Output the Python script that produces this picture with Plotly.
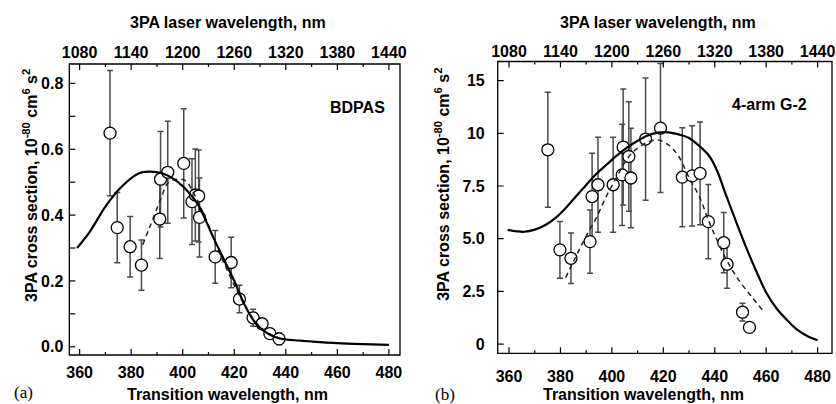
import plotly.graph_objects as go

W, H = 836, 404

# ---------------- panel (a): BDPAS ----------------
a_x = [371.8, 374.6, 379.6, 384.0, 391.1, 391.4, 394.2, 400.4, 403.6, 404.9,
       406.2, 406.5, 412.6, 418.8, 422.0, 427.3, 430.8, 433.8, 437.4]
a_y = [0.649, 0.362, 0.304, 0.248, 0.388, 0.509, 0.530, 0.557, 0.441, 0.461,
       0.458, 0.393, 0.273, 0.256, 0.145, 0.088, 0.070, 0.040, 0.024]
a_err = [0.19, 0.107, 0.092, 0.076, 0.12, 0.145, 0.155, 0.166, 0.13, 0.14,
         0.14, 0.12, 0.08, 0.077, 0.042, 0.026, 0.012, 0.008, 0.018]

a_fit_x = [359, 364, 370, 376, 383, 387, 392, 397, 402, 406, 408, 412, 416,
           420, 424, 428, 432, 436, 440, 445, 450, 460, 470, 480]
a_fit_y = [0.30, 0.35, 0.426, 0.484, 0.527, 0.532, 0.527, 0.507, 0.472, 0.432,
           0.40, 0.33, 0.265, 0.20, 0.128, 0.075, 0.045, 0.029, 0.022, 0.019,
           0.016, 0.011, 0.008, 0.006]

a_dash_x = [384.5, 387, 390, 392, 394, 397, 401, 404, 406, 410, 414, 418,
            422, 426, 430, 434, 438]
a_dash_y = [0.31, 0.36, 0.42, 0.46, 0.495, 0.508, 0.505, 0.47, 0.44, 0.37,
            0.29, 0.22, 0.155, 0.10, 0.06, 0.038, 0.025]

# ---------------- panel (b): 4-arm G-2 ----------------
b_x = [375.1, 379.8, 384.1, 391.5, 392.3, 394.6, 400.5, 404.0, 404.4, 406.6,
       407.4, 413.1, 418.9, 427.4, 431.2, 434.3, 437.5, 443.5, 444.8, 450.8, 453.5]
b_y = [9.22, 4.47, 4.07, 4.86, 7.0, 7.56, 7.56, 8.03, 9.35, 8.9,
       7.88, 9.73, 10.25, 7.92, 7.98, 8.1, 5.81, 4.81, 3.79, 1.51, 0.79]
b_err = [2.73, 1.35, 1.2, 1.5, 2.06, 2.25, 2.25, 2.4, 2.75, 2.6,
         2.36, 2.9, 3.06, 2.35, 2.38, 2.44, 1.76, 1.43, 1.14, 0.42, 0.0]

b_fit_x = [359.5, 363, 366, 370, 374, 378, 382, 386, 390, 394, 398, 402, 406,
           410, 414, 418, 422, 426, 430, 434, 438, 441, 444, 448, 452, 456,
           460, 464, 468, 472, 476, 480]
b_fit_y = [5.42, 5.35, 5.33, 5.43, 5.64, 5.98, 6.45, 7.0, 7.55, 8.08, 8.52,
           8.95, 9.33, 9.65, 9.9, 10.03, 10.05, 9.95, 9.78, 9.4, 8.9, 8.2, 7.2,
           5.9, 4.65, 3.5, 2.45, 1.7, 1.15, 0.68, 0.38, 0.18]

b_dash_x = [382, 385, 388, 391, 394, 398, 402, 406, 410, 414, 418, 422, 426,
            430, 434, 437.5, 441, 445, 449, 454, 459]
b_dash_y = [3.15, 3.9, 4.65, 5.35, 6.0, 7.05, 7.95, 8.8, 9.3, 9.58, 9.68,
            9.45, 8.9, 7.9, 7.0, 5.9, 4.9, 3.9, 3.1, 2.3, 1.55]

# ---------------- ticks / labels ----------------
bottom_ticks = [360, 380, 400, 420, 440, 460, 480]
bottom_minor = [370, 390, 410, 430, 450, 470]
top_ticks = [1080, 1140, 1200, 1260, 1320, 1380, 1440]
top_minor = [1110, 1170, 1230, 1290, 1350, 1410]
a_yticks = [0.0, 0.2, 0.4, 0.6, 0.8]
a_yminor = [0.1, 0.3, 0.5, 0.7]
a_yticktext = ["0.0", "0.2", "0.4", "0.6", "0.8"]
b_yticks = [0, 2.5, 5.0, 7.5, 10, 12.5]
b_yticktext = ["0", "2.5", "5.0", "7.5", "10", "15"]

FONT = "Liberation Sans, Arial, Helvetica, sans-serif"
SERIF = "Liberation Serif, Times New Roman, serif"

# plot-area rectangles in pixels (left, right, top, bottom)
A_BOX = (69.3, 400.0, 64.0, 355.0)
B_BOX = (497.7, 832.0, 61.5, 353.3)


def dom_x(box):
    return [box[0] / W, box[1] / W]


def dom_y(box):
    return [(H - box[3]) / H, (H - box[2]) / H]


fig = go.Figure()

marker = dict(symbol="circle", size=12, color="white",
              line=dict(color="black", width=1.3))
err_style = dict(type="data", color="#4a4a4a", thickness=1.5, width=3)

for (px_, py_, pe, fx, fy, dx, dy, xa, ya, xt) in [
    (a_x, a_y, a_err, a_fit_x, a_fit_y, a_dash_x, a_dash_y, "x", "y", "x3"),
    (b_x, b_y, b_err, b_fit_x, b_fit_y, b_dash_x, b_dash_y, "x2", "y2", "x4"),
]:
    fig.add_trace(go.Scatter(x=px_, y=py_, mode="markers", marker=marker,
                             error_y=dict(array=pe, **err_style),
                             xaxis=xa, yaxis=ya, showlegend=False,
                             hoverinfo="skip"))
    fig.add_trace(go.Scatter(x=dx, y=dy, mode="lines",
                             line=dict(color="#222", width=1.5,
                                       dash="5px,4px", shape="spline"),
                             xaxis=xa, yaxis=ya, showlegend=False))
    fig.add_trace(go.Scatter(x=fx, y=fy, mode="lines",
                             line=dict(color="black", width=2.2,
                                       shape="spline"),
                             xaxis=xa, yaxis=ya, showlegend=False))
    # same fit curve in laser-wavelength units (3 x transition) -> top axis
    fig.add_trace(go.Scatter(x=[3 * v for v in fx], y=fy, mode="lines",
                             line=dict(color="rgba(0,0,0,0)", width=0),
                             xaxis=xt, yaxis=ya, showlegend=False,
                             hoverinfo="skip"))

tickfont = dict(family=FONT, size=16, color="black", weight="bold")
titlefont = dict(family=FONT, size=16, color="black", weight="bold")

axis_common = dict(showline=False, ticks="", showgrid=False, zeroline=False,
                   tickfont=tickfont, fixedrange=True, automargin=False)

a_xr = [356.0, 484.3]
b_xr = [355.6, 485.6]


# frame + tick marks drawn as shapes on each panel's own axes
def frame_and_ticks(xa, ya, xt, box, yt_major, yt_minor):
    wpx = box[1] - box[0]
    hpx = box[3] - box[2]
    ln = dict(color="black", width=1.2)
    out = [dict(type="rect", xref=f"{xa} domain", yref=f"{ya} domain",
                x0=0, x1=1, y0=0, y1=1, line=dict(color="black", width=1.3),
                layer="above")]
    for vals, L in ((bottom_ticks, 6), (bottom_minor, 3)):
        for v in vals:
            out.append(dict(type="line", xref=xa, yref=f"{ya} domain",
                            x0=v, x1=v, y0=0, y1=L / hpx, line=ln,
                            layer="above"))
    for vals, L in ((top_ticks, 6), (top_minor, 3)):
        for v in vals:
            out.append(dict(type="line", xref=xt, yref=f"{ya} domain",
                            x0=v, x1=v, y0=1, y1=1 - L / hpx, line=ln,
                            layer="above"))
    for vals, L in ((yt_major, 6), (yt_minor, 6)):
        for v in vals:
            out.append(dict(type="line", xref=f"{xa} domain", yref=ya,
                            x0=0, x1=L / wpx, y0=v, y1=v, line=ln,
                            layer="above"))
    return out


shapes = (frame_and_ticks("x", "y", "x3", A_BOX, a_yticks, a_yminor)
          + frame_and_ticks("x2", "y2", "x4", B_BOX, b_yticks, []))

ytitle = "3PA cross section, 10<sup>-80</sup> cm<sup>6</sup> s<sup>2</sup>"


def ann(text, x, y, angle=0, font=titlefont):
    return dict(text=text, x=x / W, y=1 - y / H, xref="paper", yref="paper",
                xanchor="center", yanchor="middle", showarrow=False,
                textangle=angle, font=font)


serif_font = dict(family=SERIF, size=17, color="black")

fig.update_layout(
    width=W, height=H,
    margin=dict(l=0, r=0, t=0, b=0, autoexpand=False),
    paper_bgcolor="white", plot_bgcolor="white",
    xaxis=dict(domain=dom_x(A_BOX), range=a_xr, anchor="y",
               tickvals=bottom_ticks, ticklabelstandoff=6, **axis_common),
    yaxis=dict(domain=dom_y(A_BOX), range=[-0.025, 0.859], anchor="x",
               tickvals=a_yticks, ticktext=a_yticktext,
               ticklabelstandoff=5, **axis_common),
    xaxis3=dict(overlaying="x", side="top", anchor="y",
                range=[3 * v for v in a_xr], tickvals=top_ticks,
                ticklabelstandoff=2, **axis_common),
    xaxis2=dict(domain=dom_x(B_BOX), range=b_xr, anchor="y2",
                tickvals=bottom_ticks, ticklabelstandoff=12, **axis_common),
    yaxis2=dict(domain=dom_y(B_BOX), range=[-0.44, 13.41], anchor="x2",
                tickvals=b_yticks, ticktext=b_yticktext,
                ticklabelstandoff=12, **axis_common),
    xaxis4=dict(overlaying="x2", side="top", anchor="y2",
                range=[3 * v for v in b_xr], tickvals=top_ticks,
                ticklabelstandoff=0, **axis_common),
    shapes=shapes,
    annotations=[
        ann("Transition wavelength, nm", 227.5, 394),
        ann("Transition wavelength, nm", 643.5, 394),
        ann("3PA laser wavelength, nm", 228, 22.7),
        ann("3PA laser wavelength, nm", 657.7, 22.7),
        ann(ytitle, 30, 186, angle=-90),
        ann(ytitle, 441.8, 184, angle=-90),
        dict(text="BDPAS", x=468, y=0.728, xref="x", yref="y",
             showarrow=False, font=titlefont),
        dict(text="4-arm G-2", x=461.2, y=11.35, xref="x2", yref="y2",
             showarrow=False, font=titlefont),
        ann("(a)", 23, 392.5, font=serif_font),
        ann("(b)", 445, 394, font=serif_font),
    ],
)

fig.write_html("out.html", config={"displayModeBar": False},
               post_script="document.body.style.margin='0';")
